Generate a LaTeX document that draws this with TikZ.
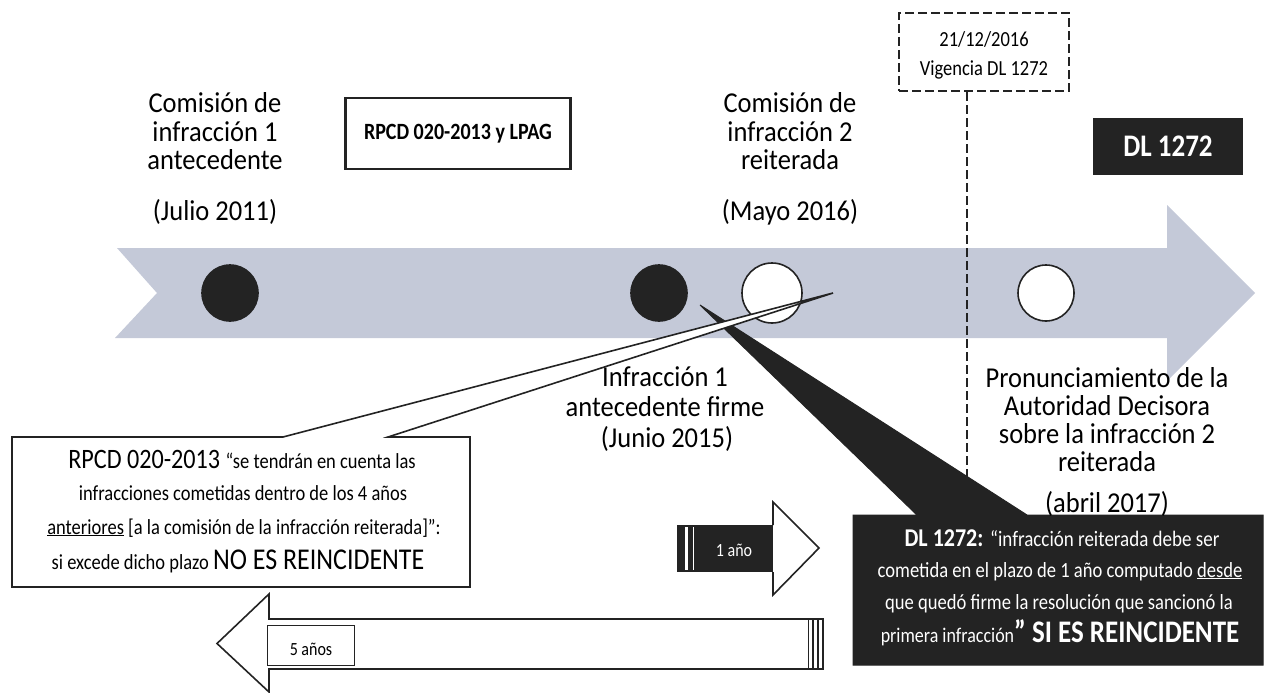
\documentclass[tikz,border=0pt]{standalone}
\usepackage{fontspec}
\setmainfont{Carlito}[FakeStretch=0.92]
\newfontfamily\boxfont{Carlito}[FakeStretch=0.86]
\definecolor{band}{RGB}{196,201,216}
\definecolor{ink}{RGB}{35,35,35}
\newcommand\setfs[1]{\fontsize{#1}{#1}\selectfont}
\begin{document}
\begin{tikzpicture}[x=1pt,y=-1pt,
  lbl/.style={font=\setfs{28.8}, inner sep=0pt, anchor=base},
  tx/.style={inner sep=0pt, anchor=base, font=\boxfont},
  dot/.style={circle, draw=ink, line width=1.6pt, minimum size=56pt, inner sep=0pt},
  vdash/.style={draw=ink, line width=2.6pt, dash pattern=on 9pt off 4pt},
  outl/.style={draw=ink, line width=1.6pt},
]
\useasboundingbox (0,0) rectangle (1266,693);
% main timeline arrow
\fill[band] (117,248) -- (1167,248) -- (1167,205) -- (1255,293) -- (1167,381) -- (1167,338) -- (115,338) -- (157,293) -- cycle;
% events
\node[dot, fill=ink] (c1) at (230,293) {};
\node[dot, fill=ink] (c2) at (659,293) {};
\node[dot, fill=white, minimum size=60pt] (c3) at (772,293) {};
\node[dot, fill=white] (c4) at (1046,293) {};
% boxes at top
\node[draw=ink, line width=2.5pt, minimum width=225pt, minimum height=71pt, inner sep=0pt, font=\boxfont\bfseries\setfs{23.3}] (rpcd) at (458,133.5) {RPCD 020-2013 y LPAG};
\node[vdash, minimum width=170pt, minimum height=78pt, inner sep=0pt] (vig) at (984,52) {};
\node[tx, font=\boxfont\setfs{21.5}] (vig1) at (984,47) {21/12/2016};
\node[tx, font=\boxfont\setfs{21.5}] (vig2) at (984,75) {Vigencia DL 1272};
\node[fill=ink, minimum width=150pt, minimum height=57pt, inner sep=0pt, text=white, font=\boxfont\bfseries\setfs{31.4}] (dl) at (1168,146) {DL 1272};
% vertical dashed line
\coordinate (vend) at (967,515);
\draw[vdash] (vig.south -| vend) -- (vend);
% black callout
\filldraw[fill=ink, draw=ink, line width=1pt] (853,515) -- (917,515) -- (700,305) -- (1027,515) -- (1263,515) -- (1263,665) -- (853,665) -- cycle;
% white callout
\filldraw[fill=white, outl] (12,437) -- (283,437) -- (833,293) -- (388,437) -- (470,437) -- (470,587) -- (12,587) -- cycle;
% labels
\node[lbl] (a1) at (215,112) {Comisión de};
\node[lbl] (a2) at (215,141) {infracción 1};
\node[lbl] (a3) at (215,169) {antecedente};
\node[lbl] (a4) at (215,220) {(Julio 2011)};
\node[lbl] (b1) at (790,112) {Comisión de};
\node[lbl] (b2) at (790,141) {infracción 2};
\node[lbl] (b3) at (790,169) {reiterada};
\node[lbl] (b4) at (790,220) {(Mayo 2016)};
\node[lbl] (f1) at (665,386) {Infracción 1};
\node[lbl] (f2) at (665,416) {antecedente firme};
\node[lbl] (f3) at (667,447) {(Junio 2015)};
\node[lbl] (p1) at (1107,387) {Pronunciamiento de la};
\node[lbl] (p2) at (1107,415) {Autoridad Decisora};
\node[lbl] (p3) at (1107,443) {sobre la infracción 2};
\node[lbl] (p4) at (1107,471) {reiterada};
\node[lbl] (p5) at (1107,512) {(abril 2017)};
% white box text
\node[tx] (w1) at (242,468) {\setfs{28.1}RPCD 020-2013 \setfs{21.5}“se tendrán en cuenta las};
\node[tx] (w2) at (243,500) {\setfs{21.5}infracciones cometidas dentro de los 4 años};
\node[tx] (w3) at (244,534) {\setfs{21.5}\underline{anteriores} [a la comisión de la infracción reiterada]”:};
\node[tx] (w4) at (238,569) {\setfs{21.5}si excede dicho plazo \setfs{30.2}NO ES REINCIDENTE};
% black box text
\node[tx, text=white] (k1) at (1062,546) {\bfseries\setfs{25.6}DL 1272: \mdseries\setfs{22.1}“infracción reiterada debe ser};
\node[tx, text=white] (k2) at (1060,577) {\setfs{21.6}cometida en el plazo de 1 año computado \underline{desde}};
\node[tx, text=white] (k3) at (1059,609) {\setfs{21.6}que quedó firme la resolución que sancionó la};
\node[tx, text=white] (k4) at (1060,642) {\setfs{20.9}primera infracción\bfseries\setfs{31.4}” SI ES REINCIDENTE};
% 1 year arrow
\fill[ink] (677,525) rectangle (773,572);
\draw[white, line width=3pt] (686,527) -- (686,570);
\draw[white, line width=0.8pt] (693,527) -- (693,570);
\filldraw[fill=white, outl] (773,525) -- (773,502) -- (819,548) -- (773,595) -- (773,572);
\node[tx, text=white, font=\boxfont\setfs{18.6}] (one) at (734,556) {1 año};
% 5 years arrow
\filldraw[fill=white, outl] (823,619) -- (269,619) -- (269,594) -- (217,643.5) -- (269,692) -- (269,669) -- (823,669) -- cycle;
\draw[ink, line width=0.6pt] (808,619) -- (808,669);
\draw[ink, line width=2pt] (813,619) -- (813,669);
\draw[ink, line width=1.5pt] (818,619) -- (818,669);
\node[draw=ink, line width=1pt, minimum width=87pt, minimum height=40pt, inner sep=0pt] (five) at (310.5,645) {};
\node[tx, font=\boxfont\setfs{18.6}] (fivet) at (311,655) {5 años};
\end{tikzpicture}
\end{document}
